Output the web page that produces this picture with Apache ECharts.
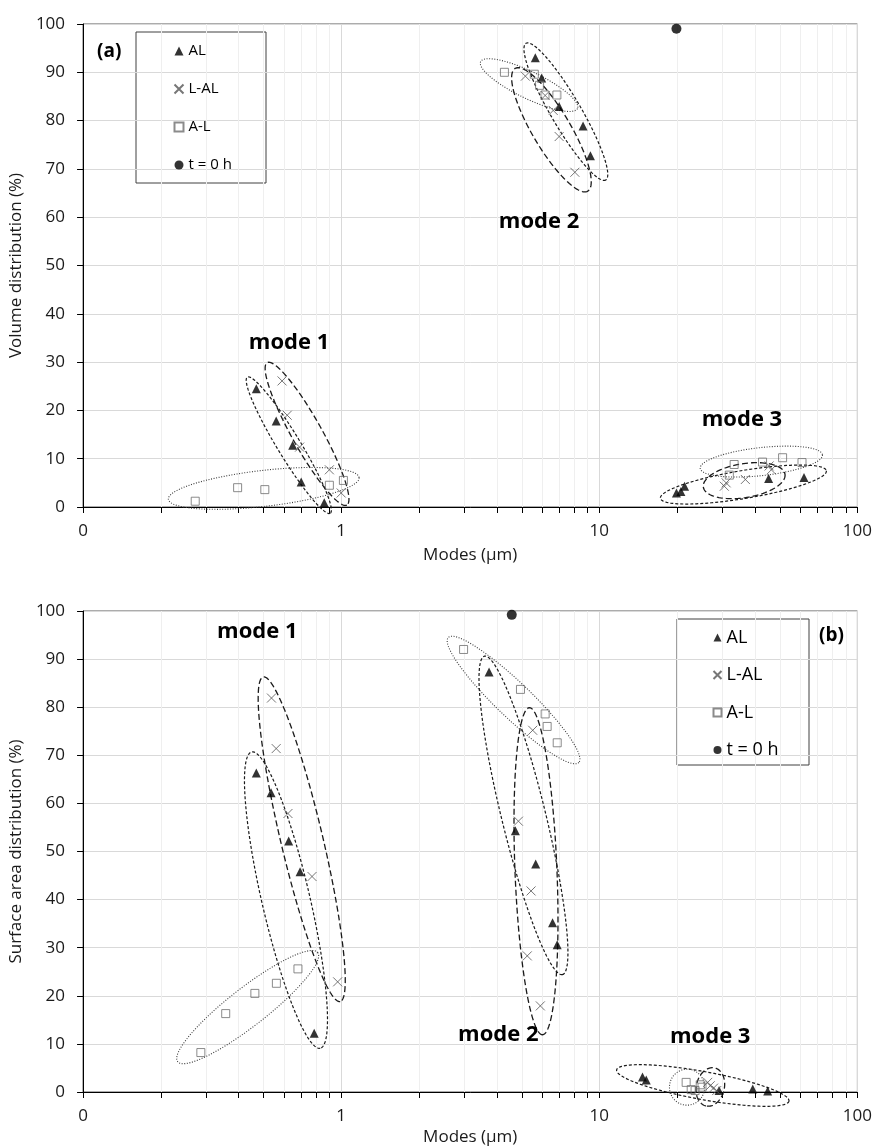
<!DOCTYPE html>
<html><head><meta charset="utf-8">
<script src="https://cdn.jsdelivr.net/npm/echarts@6/dist/echarts.min.js"></script>
<style>html,body{margin:0;padding:0;background:#fff}#c{width:875px;height:1148px}</style>
</head><body><div id="c"></div>
<script>
// ---------------- data ----------------
const seriesNames = ['AL', 'L-AL', 'A-L', 't = 0 h'];
const xTickLabels = ['0', '1', '10', '100'];          // shown at 0.1, 1, 10, 100
const minorTickValues = [0.2,0.3,0.4,0.5,0.6,0.7,0.8,0.9, 2,3,4,5,6,7,8,9, 20,30,40,50,60,70,80,90];

// panel (a) : volume distribution (%)
const volAL  = [[0.469,24.5],[0.56,17.8],[0.649,12.8],[0.70,5.2],[0.86,0.9],
                [5.65,93.0],[5.98,88.8],[6.99,82.9],[8.65,78.9],[9.24,72.7],
                [19.9,2.9],[20.7,3.2],[21.4,4.3],[45.3,5.9],[62.1,6.1]];
const volLAL = [[0.59,26.1],[0.618,19.0],[0.69,12.4],[0.90,7.7],[1.0,2.9],
                [5.17,89.2],[6.17,85.2],[6.63,82.1],[6.99,76.7],[8.04,69.3],
                [30.5,4.3],[31.0,5.0],[36.8,5.7],[46.4,7.7],[45.5,8.5]];
const volA_L = [[0.272,1.2],[0.397,4.0],[0.506,3.6],[0.90,4.5],[1.02,5.5],
                [4.29,90.0],[5.6,89.6],[5.87,87.3],[6.16,85.3],[6.85,85.3],
                [31.9,6.6],[33.3,8.8],[42.9,9.3],[51.3,10.2],[61.0,9.2]];
const volT0  = [[19.9,99.0]];

// panel (b) : surface area distribution (%)
const surfAL  = [[0.469,66.3],[0.535,62.2],[0.626,52.2],[0.693,45.8],[0.786,12.2],
                 [3.74,87.3],[4.73,54.3],[5.67,47.4],[6.59,35.2],[6.87,30.6],
                 [14.7,3.1],[15.2,2.5],[29.1,0.3],[39.3,0.6],[44.9,0.2]];
const surfLAL = [[0.537,81.9],[0.560,71.4],[0.622,57.9],[0.771,44.8],[0.969,22.9],
                 [5.52,75.2],[4.86,56.3],[5.44,41.8],[5.26,28.3],[5.91,17.9],
                 [26.3,2.0],[26.9,1.3],[27.7,0.8],[28.5,0.3]];
const surfA_L = [[0.286,8.2],[0.357,16.3],[0.463,20.5],[0.561,22.6],[0.680,25.6],
                 [2.98,92.0],[4.95,83.7],[6.17,78.6],[6.28,76.0],[6.87,72.6],
                 [21.7,2.0],[22.7,0.5],[23.5,0.3],[24.6,1.5],[25.0,1.0]];
const surfT0  = [[4.58,99.2]];

// group ellipses: ends of the long axis in data units (x1, y1, x2, y2)
const volEllAL   = [[0.433,26.9,0.907,-1.3],[5.20,96.0,10.59,67.7],[17.25,1.8,75.8,7.5]];
const volEllLAL  = [[0.517,29.9,1.052,0.4],[4.72,90.8,9.02,65.4],[25.3,4.1,52.4,6.8]];
const volEllA_L  = [[0.214,1.6,1.173,6.1],[3.47,92.2,8.23,82.5],[24.6,8.0,73.2,10.8]];
const surfEllAL  = [[0.450,70.7,0.830,9.1],[3.59,90.6,7.2,24.4],[11.67,4.6,54.3,-1.9]];
const surfEllLAL = [[0.499,86.3,0.991,18.8],[5.36,79.9,6.03,11.9],[28.0,5.0,25.9,-2.9]];
const surfEllA_L = [[0.2325,6.3,0.811,29.0],[2.60,94.5,8.33,68.5],[18.7,1.0,25.6,1.0]];

// mode label anchors (data units)
const modeLabels = ['mode 1', 'mode 2', 'mode 3'];
const volModeAt  = [[0.628,34.0],[5.84,59.0],[35.7,18.0]];
const surfModeAt = [[0.473,95.6],[4.06,11.9],[26.9,11.5]];

// ---------------- layout / style ----------------
const FONT = '"Open Sans", "Liberation Sans", sans-serif';
// half-width (px) of each ellipse, same order as the ellipse arrays
const volHalfAL = [11.5,15,14], volHalfLAL = [15,19,17], volHalfA_L = [18,13.5,14];
const surfHalfAL = [24,22,14], surfHalfLAL = [21,21,14], surfHalfA_L = [19,17.5,18];

const ellStyles = {
  AL:  {stroke:'#1a1a1a', lineWidth:1.2, lineDash:[3,2]},
  LAL: {stroke:'#1a1a1a', lineWidth:1.3, lineDash:[6,3]},
  A_L: {stroke:'#3a3a3a', lineWidth:1.1, lineDash:[1,1.6]}
};

function ellipseRender(style, halves) {
  return function (params, api) {
    const p1 = api.coord([api.value(0), api.value(1)]);
    const p2 = api.coord([api.value(2), api.value(3)]);
    const b = halves[params.dataIndex];
    const cx = (p1[0] + p2[0]) / 2, cy = (p1[1] + p2[1]) / 2;
    const dx = p2[0] - p1[0], dy = p2[1] - p1[1];
    const len = Math.hypot(dx, dy), a = len / 2;
    const ux = dx / len, uy = dy / len;
    const pts = [];
    const N = 120;
    for (let i = 0; i < N; i++) {
      const t = i / N * Math.PI * 2;
      const ca = Math.cos(t) * a, sb = Math.sin(t) * b;
      pts.push([cx + ca * ux - sb * uy, cy + ca * uy + sb * ux]);
    }
    return {type:'polygon', shape:{points:pts},
            style:{fill:'none', stroke:style.stroke, lineWidth:style.lineWidth, lineDash:style.lineDash}};
  };
}

function minorRender(params, api) {
  const v = api.value(0);
  const top = api.coord([v, 100]), bot = api.coord([v, 0]);
  const x = Math.round(top[0]) + 0.5;
  return {type:'group', children:[
    {type:'line', shape:{x1:x, y1:top[1], x2:x, y2:bot[1]}, style:{stroke:'#efefef', lineWidth:1}},
    {type:'line', shape:{x1:x, y1:bot[1], x2:x, y2:bot[1] + 6}, style:{stroke:'#000', lineWidth:1}}
  ]};
}

function labelRender(params, api) {
  const p = api.coord([api.value(0), api.value(1)]);
  return {type:'text', x:p[0], y:p[1],
          style:{text:modeLabels[params.dataIndex], fill:'#000',
                 font:'bold 22px ' + FONT, fontSize:22, fontWeight:'bold', fontFamily:FONT,
                 textAlign:'center', textVerticalAlign:'middle', align:'center', verticalAlign:'middle'}};
}

const crossPath = 'path://M0,0L10,10M10,0L0,10';

function panelSeries(g, al, lal, a_l, t0, eAL, eLAL, eA_L, hAL, hLAL, hA_L, modeAt) {
  const base = {xAxisIndex:g, yAxisIndex:g};
  return [
    Object.assign({type:'custom', z:1, silent:true, renderItem:minorRender,
                   data:minorTickValues.map(v => [v, 0]), encode:{x:0, y:1}}, base),
    Object.assign({type:'custom', z:3, silent:true, renderItem:ellipseRender(ellStyles.AL, hAL),
                   data:eAL, encode:{x:[0,2], y:[1,3]}}, base),
    Object.assign({type:'custom', z:3, silent:true, renderItem:ellipseRender(ellStyles.LAL, hLAL),
                   data:eLAL, encode:{x:[0,2], y:[1,3]}}, base),
    Object.assign({type:'custom', z:3, silent:true, renderItem:ellipseRender(ellStyles.A_L, hA_L),
                   data:eA_L, encode:{x:[0,2], y:[1,3]}}, base),
    Object.assign({type:'scatter', name:seriesNames[0], z:5, symbol:'triangle', symbolSize:9,
                   itemStyle:{color:'#000'}, data:al}, base),
    Object.assign({type:'scatter', name:seriesNames[1], z:5, symbol:crossPath, symbolSize:9,
                   itemStyle:{color:'rgba(0,0,0,0)', borderColor:'#555', borderWidth:1}, data:lal}, base),
    Object.assign({type:'scatter', name:seriesNames[2], z:5, symbol:'rect', symbolSize:8,
                   itemStyle:{color:'rgba(255,255,255,0)', borderColor:'#6e6e6e', borderWidth:1}, data:a_l}, base),
    Object.assign({type:'scatter', name:seriesNames[3], z:5, symbol:'circle', symbolSize:10,
                   itemStyle:{color:'#000'}, data:t0}, base),
    Object.assign({type:'custom', z:6, silent:true, renderItem:labelRender,
                   data:modeAt, encode:{x:0, y:1}}, base)
  ];
}

function xAxisCfg(g, nameGap) {
  return {type:'log', logBase:10, gridIndex:g, min:0.1, max:100,
    name:'Modes (µm)', nameLocation:'middle', nameGap:nameGap,
    nameTextStyle:{fontSize:17, fontFamily:FONT, color:'#1a1a1a'},
    axisLine:{show:true, onZero:false, lineStyle:{color:'#000', width:1}},
    axisTick:{show:true, inside:false, length:6, lineStyle:{color:'#000'}},
    axisLabel:{margin:16, fontSize:17, fontFamily:FONT, color:'#1a1a1a',
      formatter: v => xTickLabels[Math.round(Math.log10(v)) + 1]},
    splitLine:{show:true, lineStyle:{color:'#d9d9d9', width:1}},
    minorTick:{show:false}, minorSplitLine:{show:false}};
}
function yAxisCfg(g, name) {
  return {type:'value', gridIndex:g, min:0, max:100, interval:10,
    name:name, nameLocation:'middle', nameGap:52,
    nameTextStyle:{fontSize:17, fontFamily:FONT, color:'#1a1a1a'},
    axisLine:{show:true, lineStyle:{color:'#000', width:1}},
    axisTick:{show:true, inside:false, length:6, lineStyle:{color:'#000'}},
    axisLabel:{margin:18, fontSize:17, fontFamily:FONT, color:'#1a1a1a'},
    splitLine:{show:true, lineStyle:{color:'#d9d9d9', width:1}}};
}
function legendCfg(left, top, fontSize, iconSize, gap) {
  return {show:true, orient:'vertical', left:left, top:top, padding:0,
    itemWidth:iconSize, itemHeight:iconSize, itemGap:gap,
    textStyle:{fontSize:fontSize, fontFamily:FONT, color:'#000'},
    data:seriesNames, selectedMode:false};
}

const option = {
  backgroundColor:'#fff',
  animation:false,
  grid:[
    {left:80, top:24, width:778, height:483, show:true, borderColor:'#595959', borderWidth:1, backgroundColor:'transparent'},
    {left:80, top:611, width:781, height:481, show:true, borderColor:'#595959', borderWidth:1, backgroundColor:'transparent'}
  ],
  xAxis:[xAxisCfg(0, 40), xAxisCfg(1, 37)],
  yAxis:[yAxisCfg(0, 'Volume distribution (%)'), yAxisCfg(1, 'Surface area distribution (%)')],
  legend:[legendCfg(173.5, 43.5, 15, 9, 23), legendCfg(712.5, 628.5, 18, 8, 19.5)],
  graphic:[
    {type:'rect', left:135.5, top:31.5, shape:{width:130, height:151}, z:-1,
     style:{fill:'#fff', stroke:'#404040', lineWidth:1}},
    {type:'rect', left:676.5, top:618.5, shape:{width:132, height:146}, z:-1,
     style:{fill:'#fff', stroke:'#404040', lineWidth:1}},
    {type:'text', left:97, top:42, z:10, style:{text:'(a)', font:'bold 19px ' + FONT, fill:'#000'}},
    {type:'text', left:819, top:626, z:10, style:{text:'(b)', font:'bold 19px ' + FONT, fill:'#000'}}
  ],
  series:[].concat(
    panelSeries(0, volAL, volLAL, volA_L, volT0, volEllAL, volEllLAL, volEllA_L,
                volHalfAL, volHalfLAL, volHalfA_L, volModeAt),
    panelSeries(1, surfAL, surfLAL, surfA_L, surfT0, surfEllAL, surfEllLAL, surfEllA_L,
                surfHalfAL, surfHalfLAL, surfHalfA_L, surfModeAt)
  )
};

const chart = echarts.init(document.getElementById('c'), null, {renderer:'canvas'});
chart.setOption(option);
</script>
</body></html>
